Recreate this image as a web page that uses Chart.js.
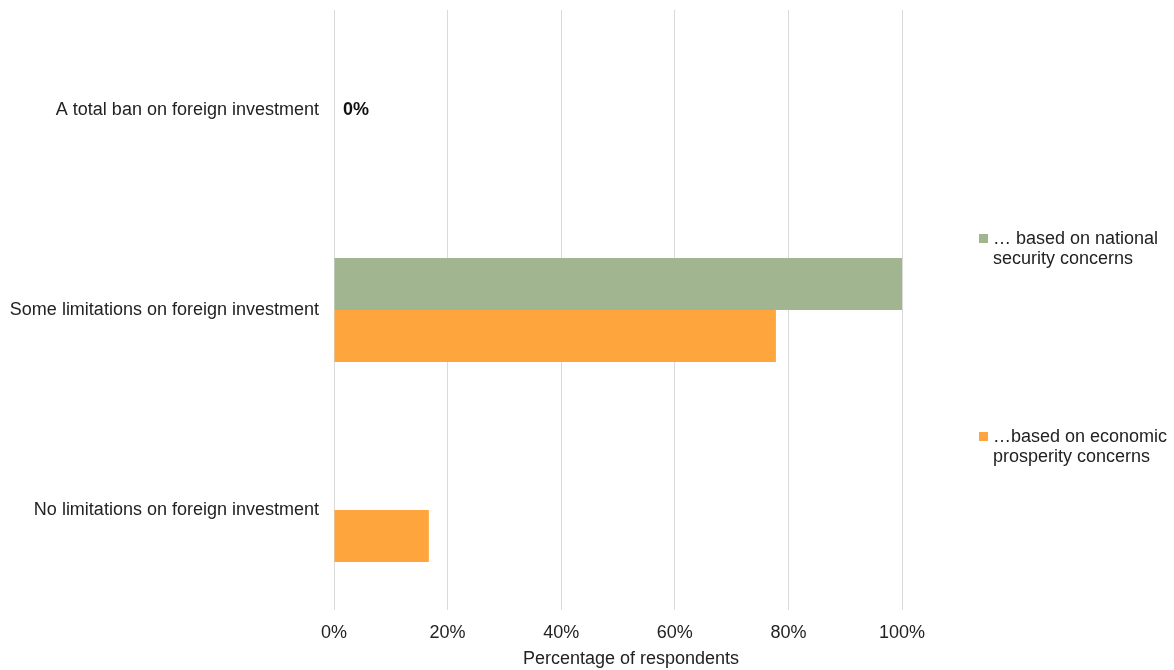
<!DOCTYPE html>
<html>
<head>
<meta charset="utf-8">
<script src="https://cdn.jsdelivr.net/npm/chart.js@4.4.1/dist/chart.umd.min.js"></script>
<style>
  html, body { margin: 0; padding: 0; background: #fff; }
  #wrap { position: relative; width: 1174px; height: 670px; }
  #legend { position: absolute; left: 979px; top: 0; font-family: "Liberation Sans", Arial, sans-serif; font-size: 18px; color: #222; }
  .item { position: absolute; left: 0; white-space: nowrap; line-height: 20px; padding-left: 14px; }
  .item .box { position: absolute; left: 0; top: 6px; width: 9px; height: 9px; }
</style>
</head>
<body>
<div id="wrap">
  <canvas id="myChart" width="1174" height="670"></canvas>
  <div id="legend"></div>
</div>
<script>
const categories = [
    "A total ban on foreign investment",
    "Some limitations on foreign investment",
    "No limitations on foreign investment"
];
const seriesNames = ["\u2026 based on national security concerns", "\u2026based on economic prosperity concerns"];
const legendLines = [["\u2026 based on national", "security concerns"], ["\u2026based on economic", "prosperity concerns"]];
const nationalSecurity = [0, 100, 0];
const economicProsperity = [0, 77.8, 16.7];
const tickValues = [0, 20, 40, 60, 80, 100];
const zeroNote = { category: 0, value: 0, text: "0%" };
const xTitle = "Percentage of respondents";

const colors = ["#a0b590", "#fea53e"];
const fontFamily = "'Liberation Sans', Arial, sans-serif";

// bold "0%" note at the empty category, plus the x axis title (sits a bit right of centre)
const extrasPlugin = {
    id: "extras",
    afterDatasetsDraw(chart) {
        const ctx = chart.ctx;
        const xs = chart.scales.x;
        const x = xs.getPixelForValue(zeroNote.value);
        const y = chart.scales.y.getPixelForValue(zeroNote.category);
        ctx.save();
        ctx.font = "bold 18px " + fontFamily;
        ctx.fillStyle = "#111";
        ctx.textAlign = "left";
        ctx.textBaseline = "middle";
        ctx.fillText(zeroNote.text, x + 9, y);

        ctx.font = "18px " + fontFamily;
        ctx.fillStyle = "#222";
        ctx.textAlign = "center";
        ctx.fillText(xTitle, (xs.left + xs.right) / 2 + 13, xs.bottom - 11);
        ctx.restore();
    }
};

const ctx = document.getElementById("myChart").getContext("2d");
const chart = new Chart(ctx, {
    type: "bar",
    data: {
        labels: categories,
        datasets: [
            { label: seriesNames[0], data: nationalSecurity, backgroundColor: colors[0] },
            { label: seriesNames[1], data: economicProsperity, backgroundColor: colors[1] }
        ]
    },
    options: {
        indexAxis: "y",
        responsive: false,
        animation: false,
        layout: { padding: { left: 10, right: 272, top: 10, bottom: 0 } },
        datasets: { bar: { categoryPercentage: 0.52, barPercentage: 1.0 } },
        plugins: {
            legend: { display: false },
            tooltip: { enabled: false }
        },
        scales: {
            x: {
                min: 0,
                max: 100,
                afterBuildTicks(axis) { axis.ticks = tickValues.map(v => ({ value: v })); },
                afterFit(axis) { axis.height = 60; },
                grid: { color: "#d9d9d9", drawTicks: false, lineWidth: 1 },
                border: { display: false },
                ticks: {
                    padding: 12,
                    color: "#222",
                    font: { family: fontFamily, size: 18 },
                    callback: v => v + "%"
                }
            },
            y: {
                afterFit(axis) { axis.width = 324; axis.paddingTop = 0; axis.paddingBottom = 0; },
                grid: { display: false, drawTicks: false },
                border: { display: false },
                ticks: {
                    padding: 15,
                    color: "#222",
                    font: { family: fontFamily, size: 18 }
                }
            }
        }
    },
    plugins: [extrasPlugin]
});

// legend beside the plot
const legend = document.getElementById("legend");
const legendTops = [228, 426];
legendLines.forEach((lines, i) => {
    const item = document.createElement("div");
    item.className = "item";
    item.style.top = legendTops[i] + "px";
    item.innerHTML = '<span class="box" style="background:' + colors[i] + '"></span>' + lines.join("<br>");
    legend.appendChild(item);
});
</script>
</body>
</html>
